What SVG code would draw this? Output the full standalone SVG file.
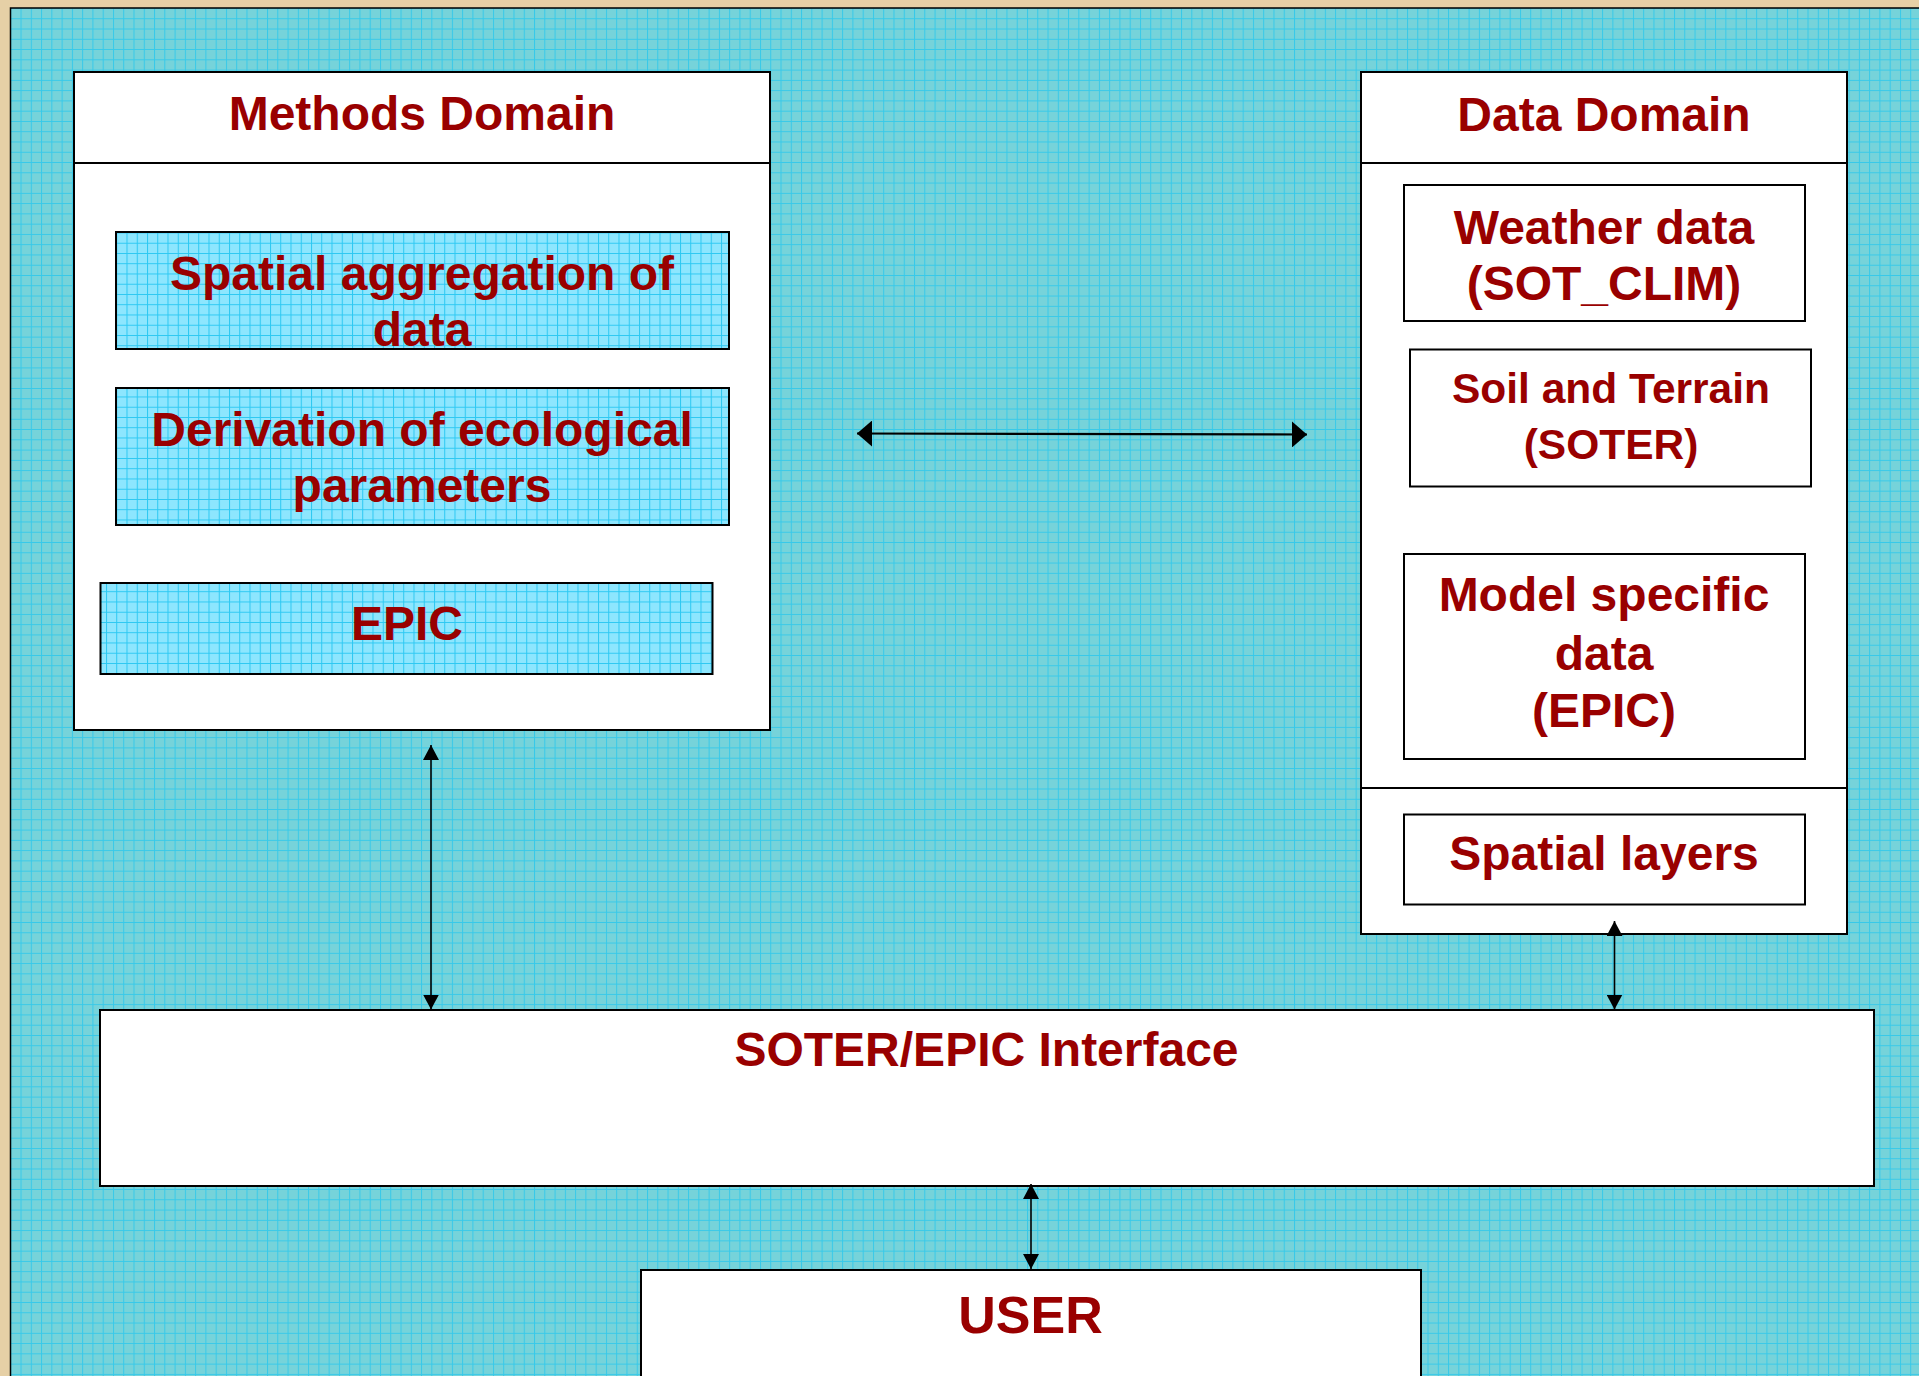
<svg xmlns="http://www.w3.org/2000/svg" width="1919" height="1376" viewBox="0 0 1919 1376">
<defs>
<pattern id="bgGrid" patternUnits="userSpaceOnUse" x="0" y="8" width="10.27" height="10.27">
<rect width="10.27" height="10.27" fill="#76D3DA"/>
<path d="M0.5,0V10.27M0,0.5H10.27" stroke="#2CC8EC" stroke-width="1" stroke-opacity="0.85"/>
</pattern>
<pattern id="boxGrid" patternUnits="userSpaceOnUse" x="3.5" y="7" width="10.25" height="10.25">
<rect width="10.25" height="10.25" fill="#8DE6FE"/>
<path d="M0.5,0V10.25M0,0.5H10.25" stroke="#2CC8F2" stroke-width="1"/>
</pattern>
<marker id="bigHead" markerUnits="userSpaceOnUse" viewBox="0 0 15 26" refX="15" refY="13" markerWidth="15" markerHeight="26" orient="auto-start-reverse">
<path d="M0,0L15,13L0,26z" fill="#000"/>
</marker>
<marker id="smallHead" markerUnits="userSpaceOnUse" viewBox="0 0 15 16" refX="15" refY="8" markerWidth="15" markerHeight="16" orient="auto-start-reverse">
<path d="M0,0L15,8L0,16z" fill="#000"/>
</marker>
</defs>
<style>
.box{fill:#fff;stroke:#000;stroke-width:2}
.cyan{fill:url(#boxGrid);stroke:#000;stroke-width:2}
.div{stroke:#000;stroke-width:2}
.t{font-family:"Liberation Sans",Arial,sans-serif;font-weight:bold;fill:#990000;text-anchor:middle;font-size:48px}
.conn{stroke:#000;fill:none}
</style>
<rect x="0" y="0" width="1919" height="1376" fill="#E6D0A6"/>
<rect x="10.5" y="8" width="1910" height="1370" fill="url(#bgGrid)" stroke="#000" stroke-width="1.5"/>

<g id="methods-domain">
<rect class="box" x="74" y="72" width="696" height="658"/>
<line class="div" x1="74" y1="163" x2="770" y2="163"/>
<text class="t" x="422" y="130">Methods Domain</text>
</g>
<g id="spatial-aggregation">
<rect class="cyan" x="116" y="232" width="613" height="117"/>
<text class="t" x="422" y="290">Spatial aggregation of</text>
<text class="t" x="422" y="346">data</text>
</g>
<g id="derivation">
<rect class="cyan" x="116" y="388" width="613" height="137"/>
<text class="t" x="422" y="446">Derivation of ecological</text>
<text class="t" x="422" y="502">parameters</text>
</g>
<g id="epic">
<rect class="cyan" x="100.5" y="583" width="612" height="91"/>
<text class="t" x="407" y="640">EPIC</text>
</g>

<g id="data-domain">
<rect class="box" x="1361" y="72" width="486" height="862"/>
<line class="div" x1="1361" y1="163" x2="1847" y2="163"/>
<line class="div" x1="1361" y1="788" x2="1847" y2="788"/>
<text class="t" x="1604" y="131">Data Domain</text>
</g>
<g id="weather-data">
<rect class="box" x="1404" y="185" width="401" height="136"/>
<text class="t" x="1604" y="244">Weather data</text>
<text class="t" x="1604" y="300">(SOT_CLIM)</text>
</g>
<g id="soil-terrain">
<rect class="box" x="1410" y="349.5" width="401" height="137"/>
<text class="t" x="1611" y="403" style="font-size:42.5px">Soil and Terrain</text>
<text class="t" x="1611" y="459" style="font-size:42.5px">(SOTER)</text>
</g>
<g id="model-specific">
<rect class="box" x="1404" y="554" width="401" height="205"/>
<text class="t" x="1604" y="611">Model specific</text>
<text class="t" x="1604" y="670">data</text>
<text class="t" x="1604" y="727">(EPIC)</text>
</g>
<g id="spatial-layers">
<rect class="box" x="1404" y="814.5" width="401" height="90"/>
<text class="t" x="1604" y="870">Spatial layers</text>
</g>

<g id="interface">
<rect class="box" x="100" y="1010" width="1774" height="176"/>
<text class="t" x="986.5" y="1066">SOTER/EPIC Interface</text>
</g>
<g id="user">
<rect class="box" x="641" y="1270" width="780" height="130"/>
<text class="t" x="1030.5" y="1333" style="font-size:52px">USER</text>
</g>

<g id="connectors">
<line class="conn" x1="857" y1="433.5" x2="1307" y2="434.5" stroke-width="2.2" marker-start="url(#bigHead)" marker-end="url(#bigHead)"/>
<line class="conn" x1="431" y1="745" x2="431" y2="1009.5" stroke-width="1.6" marker-start="url(#smallHead)" marker-end="url(#smallHead)"/>
<line class="conn" x1="1614.5" y1="921" x2="1614.5" y2="1009.5" stroke-width="1.6" marker-start="url(#smallHead)" marker-end="url(#smallHead)"/>
<line class="conn" x1="1031" y1="1184" x2="1031" y2="1269" stroke-width="1.6" marker-start="url(#smallHead)" marker-end="url(#smallHead)"/>
</g>
</svg>
